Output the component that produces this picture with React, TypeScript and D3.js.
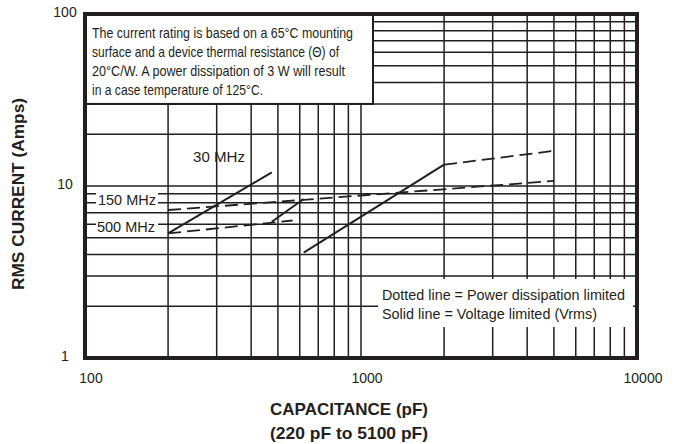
import * as d3 from "d3";

// axis ticks
const xTickValues = [100, 1000, 10000];
const yTickValues = [1, 10, 100];

// curves: [capacitance pF, current A]
const solid30MHz: [number, number][] = [[200, 5.3], [475, 12]];
const solidMid: [number, number][] = [[475, 6.2], [620, 8.4]];
const solidUpper: [number, number][] = [[620, 4.1], [2000, 13.3]];
const dashed150MHz: [number, number][] = [[200, 7.25], [5000, 10.7]];
const dashed500MHz: [number, number][] = [[200, 5.3], [565, 6.3]];
const dashedUpper: [number, number][] = [[2000, 13.3], [5000, 16.0]];

const noteLines = [
  "The current rating is based on a 65\u00B0C mounting",
  "surface and a device thermal resistance (\u0398) of",
  "20\u00B0C/W. A power dissipation of 3 W will result",
  "in a case temperature of 125\u00B0C.",
];
const noteWidths = [261, 247, 253, 171];
const legendLines = [
  "Dotted line = Power dissipation limited",
  "Solid line = Voltage limited (Vrms)",
];
const legendWidths = [243, 215];

const FONT = "'Liberation Sans', Arial, Helvetica, sans-serif";
const INK = "#231f20";

const App = () => {
  const width = 674;
  const height = 444;
  const margin = { top: 14, right: 37, bottom: 86, left: 85 };
  const innerW = width - margin.left - margin.right;
  const innerH = height - margin.top - margin.bottom;

  const x = d3.scaleLog().domain([100, 10000]).range([0, innerW]);
  const y = d3.scaleLog().domain([1, 100]).range([innerH, 0]);

  const line = d3
    .line<[number, number]>()
    .x((d) => x(d[0]))
    .y((d) => y(d[1]));

  const solids = [solid30MHz, solidMid, solidUpper];
  const dashes = [dashed150MHz, dashed500MHz, dashedUpper];

  // white boxes that mask the grid
  const noteBox = { x0: 1, y0: 0, x1: 288, y1: y(30) };
  const legendBox = { x0: 293, y0: 265, x1: 548, y1: 313 };

  const squeeze = { lengthAdjust: "spacingAndGlyphs" } as any;

  return (
    <svg
      width={width}
      height={height}
      style={{ position: "absolute", left: 0, top: 0, background: "#fff" }}
      fontFamily={FONT}
    >
      <g transform={`translate(${margin.left},${margin.top})`}>
        {/* grid */}
        {x.ticks().map((t) => (
          <line key={"vx" + t} x1={x(t)} x2={x(t)} y1={0} y2={innerH} stroke={INK} strokeWidth={1.5} />
        ))}
        {y.ticks().map((t) => (
          <line key={"hy" + t} x1={0} x2={innerW} y1={y(t)} y2={y(t)} stroke={INK} strokeWidth={1.5} />
        ))}

        {/* note box */}
        <rect
          x={noteBox.x0}
          y={noteBox.y0}
          width={noteBox.x1 - noteBox.x0}
          height={noteBox.y1 - noteBox.y0}
          fill="#fff"
          stroke={INK}
          strokeWidth={2}
        />
        {noteLines.map((s, i) => (
          <text key={s} x={7} y={24 + i * 19} fontSize={15} fill={INK} textLength={noteWidths[i]} {...squeeze}>
            {s}
          </text>
        ))}

        {/* legend box */}
        <rect
          x={legendBox.x0}
          y={legendBox.y0}
          width={legendBox.x1 - legendBox.x0}
          height={legendBox.y1 - legendBox.y0}
          fill="#fff"
        />
        {legendLines.map((s, i) => (
          <text key={s} x={297} y={286 + i * 19} fontSize={15} fill={INK} textLength={legendWidths[i]} {...squeeze}>
            {s}
          </text>
        ))}

        {/* curve labels */}
        <rect x={11} y={176} width={62} height={19} fill="#fff" />
        <text x={13} y={191} fontSize={15} fill={INK} textLength={58} {...squeeze}>
          150 MHz
        </text>
        <rect x={11} y={203} width={62} height={19} fill="#fff" />
        <text x={12} y={218} fontSize={15} fill={INK} textLength={58} {...squeeze}>
          500 MHz
        </text>
        <text x={108} y={148} fontSize={15} fill={INK} textLength={52} {...squeeze}>
          30 MHz
        </text>

        {/* curves */}
        {solids.map((d, i) => (
          <path key={"s" + i} d={line(d) ?? ""} fill="none" stroke={INK} strokeWidth={2} />
        ))}
        {dashes.map((d, i) => (
          <path
            key={"d" + i}
            d={line(d) ?? ""}
            fill="none"
            stroke={INK}
            strokeWidth={1.8}
            strokeDasharray="13,6"
          />
        ))}

        {/* frame */}
        <path
          d={`M0,0 V${innerH} H${innerW} V0 Z`}
          fill="none"
          stroke={INK}
          strokeWidth={4}
        />

        {/* tick labels */}
        {xTickValues.map((t) => (
          <text key={"xl" + t} x={x(t) + 6} y={innerH + 25} fontSize={14} textAnchor="middle" fill={INK}>
            {t}
          </text>
        ))}
        {yTickValues.map((t) => (
          <text key={"yl" + t} x={-20} y={y(t) + 3} fontSize={14} textAnchor="middle" fill={INK}>
            {t}
          </text>
        ))}

        {/* axis titles */}
        <text x={264} y={innerH + 57} fontSize={17} fontWeight="bold" textAnchor="middle" fill={INK} textLength={158} {...squeeze}>
          CAPACITANCE (pF)
        </text>
        <text x={264} y={innerH + 81} fontSize={17} fontWeight="bold" textAnchor="middle" fill={INK} textLength={158} {...squeeze}>
          (220 pF to 5100 pF)
        </text>
        <text
          transform={`translate(${-margin.left + 24},${180}) rotate(-90)`}
          fontSize={17}
          fontWeight="bold"
          textAnchor="middle"
          fill={INK}
          textLength={192}
          {...squeeze}
        >
          RMS CURRENT (Amps)
        </text>
      </g>
    </svg>
  );
};

export default App;
